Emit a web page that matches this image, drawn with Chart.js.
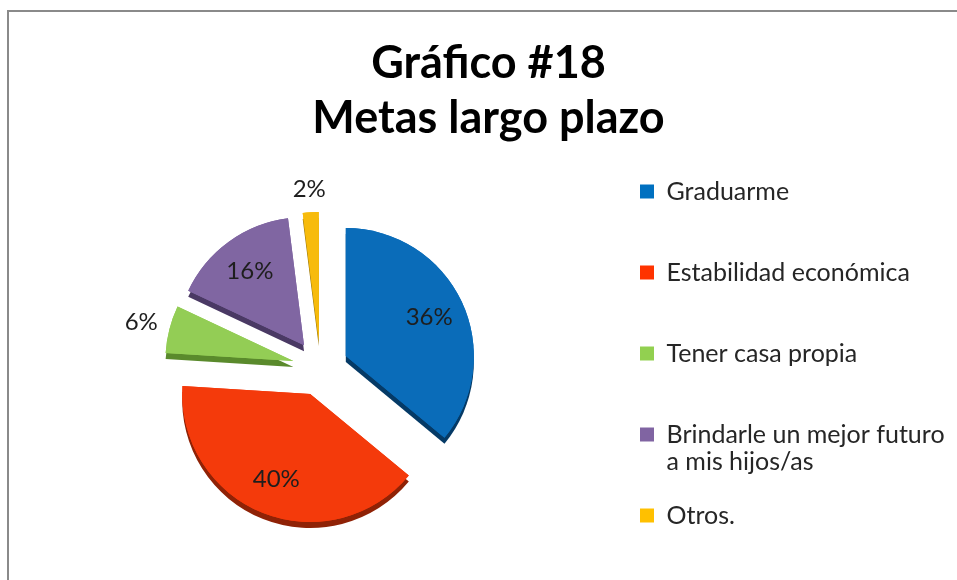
<!DOCTYPE html>
<html>
<head>
<meta charset="utf-8">
<script src="https://cdn.jsdelivr.net/npm/chart.js@4.4.1/dist/chart.umd.min.js"></script>
<style>
html,body{margin:0;padding:0;background:#fff;overflow:hidden;width:957px;height:580px;}
#frame{position:absolute;left:7px;top:10px;width:1000px;height:700px;border:2px solid #8a8a8a;box-sizing:border-box;}
#c{position:absolute;left:0;top:0;}
</style>
</head>
<body>
<div id="frame"></div>
<canvas id="c" width="957" height="600" style="width:957px;height:600px"></canvas>
<script>
// ---- data ----
const titleLines = ['Gráfico #18', 'Metas largo plazo'];
const categories = ['Graduarme', 'Estabilidad económica', 'Tener casa propia', 'Brindarle un mejor futuro a mis hijos/as', 'Otros.'];
const percentages = [36, 40, 6, 16, 2];

// ---- styles ----
const sliceColors = ['#0a6cb9', '#f43a0b', '#93cd55', '#8066a2', '#f7bb0c'];
const sideColors = ['#053a66', '#8f2206', '#5a8a2c', '#4a3964', '#a07a05'];
const swatchColors = ['#0070c0', '#ff3300', '#92d050', '#8064a2', '#ffc000'];
const EXPLODE = 28;     // px each slice is pulled out
const SIDE_DEPTH = 6;   // px of the darker "3D" side

function wrapLabel(text, maxChars) {
  const words = text.split(' ');
  const lines = [];
  let cur = '';
  words.forEach(w => {
    const t = cur ? cur + ' ' + w : w;
    if (t.length > maxChars && cur) { lines.push(cur); cur = w; } else { cur = t; }
  });
  if (cur) lines.push(cur);
  while (lines.length < 2) lines.push('');
  return lines;
}

function midAngle(arc) {
  const p = arc.getProps(['startAngle', 'endAngle'], true);
  return (p.startAngle + p.endAngle) / 2;
}

// exploded slices with a darker side, drawn with the library's arc elements
const explodedPie = {
  id: 'explodedPie',
  beforeDatasetDraw(chart, args) {
    const ctx = chart.ctx;
    const arcs = args.meta.data;
    for (let pass = 0; pass < 2; pass++) {
      arcs.forEach((arc, i) => {
        const m = midAngle(arc);
        ctx.save();
        ctx.translate(Math.cos(m) * EXPLODE, Math.sin(m) * EXPLODE);
        if (pass === 0) {
          ctx.shadowColor = sideColors[i];
          ctx.shadowOffsetX = 0;
          ctx.shadowOffsetY = SIDE_DEPTH;
          ctx.shadowBlur = 0;
        }
        arc.draw(ctx);
        ctx.restore();
      });
    }
    return false;
  }
};

const pctPlugin = {
  id: 'pctLabels',
  afterDatasetsDraw(chart) {
    const ctx = chart.ctx;
    const meta = chart.getDatasetMeta(0);
    ctx.save();
    ctx.font = '24px Lato';
    ctx.fillStyle = '#1e1e1e';
    ctx.textAlign = 'center';
    ctx.textBaseline = 'middle';
    meta.data.forEach((arc, i) => {
      const p = arc.getProps(['x', 'y', 'startAngle', 'endAngle', 'outerRadius'], true);
      const mid = (p.startAngle + p.endAngle) / 2;
      const cx = p.x + Math.cos(mid) * EXPLODE;
      const cy = p.y + Math.sin(mid) * EXPLODE;
      const text = percentages[i] + '%';
      const share = (p.endAngle - p.startAngle) / (2 * Math.PI);
      let d;
      if (share >= 0.1) {
        d = p.outerRadius * 0.72;
      } else {
        const w = ctx.measureText(text).width;
        d = p.outerRadius + 10 + Math.abs(Math.cos(mid)) * w / 2 + Math.abs(Math.sin(mid)) * 12;
      }
      ctx.fillText(text, cx + Math.cos(mid) * d, cy + Math.sin(mid) * d);
    });
    ctx.restore();
  }
};

Chart.defaults.font.family = 'Lato';

const chart = new Chart(document.getElementById('c'), {
  type: 'pie',
  data: {
    labels: categories,
    datasets: [{
      data: percentages,
      backgroundColor: sliceColors,
      borderWidth: 0,
      offset: 0,
      radius: 128
    }]
  },
  options: {
    responsive: false,
    animation: false,
    events: [],
    layout: { padding: { left: 28, right: 8, top: 0, bottom: 16 } },
    plugins: {
      tooltip: { enabled: false },
      title: {
        display: true,
        text: titleLines,
        color: '#000000',
        font: { family: 'Lato', size: 45, weight: 'bold', lineHeight: '55px' },
        padding: { top: 36, bottom: 6 }
      },
      legend: {
        display: true,
        position: 'right',
        align: 'center',
        fullSize: false,
        maxWidth: 336,
        labels: {
          color: '#262626',
          boxWidth: 14,
          boxHeight: 14,
          padding: 27,
          font: { family: 'Lato', size: 25, lineHeight: '27px' },
          generateLabels(ch) {
            const base = Chart.overrides.doughnut.plugins.legend.labels.generateLabels(ch);
            return base.map((item, i) => Object.assign({}, item, {
              text: wrapLabel(categories[i], 25),
              fillStyle: swatchColors[i],
              strokeStyle: swatchColors[i],
              lineWidth: 0
            }));
          }
        }
      }
    }
  },
  plugins: [explodedPie, pctPlugin]
});
</script>
</body>
</html>
